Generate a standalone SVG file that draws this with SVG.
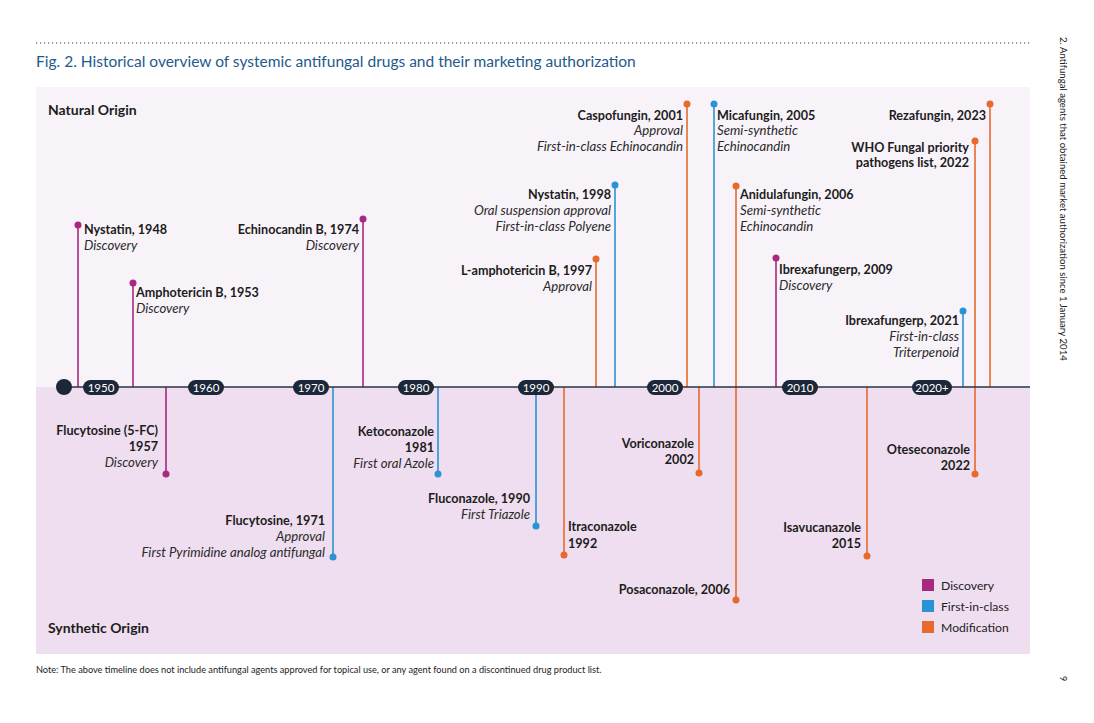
<svg xmlns="http://www.w3.org/2000/svg" width="1094" height="723" viewBox="0 0 1094 723">
<defs>
<style>
.t{font-family:Lato,"Noto Sans",sans-serif;fill:#1c1c1c}
.b{font-weight:bold;font-size:12.6px}
.i{font-style:italic;font-size:13.2px;fill:#2a2a2a}
.e{text-anchor:end}
.pill{fill:#1c2738}
.py{font-family:Lato,"Noto Sans",sans-serif;font-size:11.5px;fill:#ffffff;text-anchor:middle}
.d{stroke:#a8297d;fill:none;stroke-width:1.6}
.f{stroke:#2a93d4;fill:none;stroke-width:1.6}
.m{stroke:#e6692d;fill:none;stroke-width:1.6}
.dd{fill:#a8297d}
.fd{fill:#2a93d4}
.md{fill:#e6692d}
</style>
</defs>
<rect width="1094" height="723" fill="#ffffff"/>
<line x1="36" y1="43" x2="1030" y2="43" stroke="#333" stroke-width="1.2" stroke-dasharray="1.2 2.8"/>
<text x="36" y="67" font-family="Lato,'Noto Sans',sans-serif" font-size="15.5" fill="#1e5a8c">Fig. 2. Historical overview of systemic antifungal drugs and their marketing authorization</text>
<rect x="36" y="87" width="994" height="300" fill="#f8f3f9"/>
<rect x="36" y="387" width="994" height="267" fill="#efdeef"/>
<text class="t" x="48" y="115" font-size="14" font-weight="bold">Natural Origin</text>
<text class="t" x="48" y="633" font-size="14" font-weight="bold">Synthetic Origin</text>
<g id="connectors">
<line class="d" x1="78" y1="225" x2="78" y2="387"/>
<line class="d" x1="133" y1="283" x2="133" y2="387"/>
<line class="d" x1="363" y1="219" x2="363" y2="387"/>
<line class="m" x1="596" y1="259" x2="596" y2="387"/>
<line class="f" x1="615" y1="185" x2="615" y2="387"/>
<line class="m" x1="687" y1="104" x2="687" y2="387"/>
<line class="f" x1="714" y1="104" x2="714" y2="387"/>
<line class="m" x1="736" y1="186" x2="736" y2="600"/>
<line class="d" x1="776" y1="258" x2="776" y2="387"/>
<line class="f" x1="963" y1="311" x2="963" y2="387"/>
<line class="m" x1="975" y1="141" x2="975" y2="474"/>
<line class="m" x1="990" y1="104" x2="990" y2="387"/>
<line class="d" x1="166" y1="387" x2="166" y2="474"/>
<line class="f" x1="333" y1="387" x2="333" y2="557"/>
<line class="f" x1="438" y1="387" x2="438" y2="474"/>
<line class="f" x1="536" y1="387" x2="536" y2="526"/>
<line class="m" x1="564" y1="387" x2="564" y2="555"/>
<line class="m" x1="699" y1="387" x2="699" y2="473"/>
<line class="m" x1="867" y1="387" x2="867" y2="556"/>
</g>
<g id="axis">
<line x1="64" y1="387" x2="1030" y2="387" stroke="#2b3342" stroke-width="1.6"/>
<circle cx="64" cy="387" r="8" fill="#1c2738"/>
<rect class="pill" x="83" y="380" width="36" height="15" rx="7.5"/><text class="py" x="101" y="392">1950</text>
<rect class="pill" x="188" y="380" width="36" height="15" rx="7.5"/><text class="py" x="206" y="392">1960</text>
<rect class="pill" x="293" y="380" width="36" height="15" rx="7.5"/><text class="py" x="311" y="392">1970</text>
<rect class="pill" x="398" y="380" width="36" height="15" rx="7.5"/><text class="py" x="416" y="392">1980</text>
<rect class="pill" x="518" y="380" width="36" height="15" rx="7.5"/><text class="py" x="536" y="392">1990</text>
<rect class="pill" x="647" y="380" width="36" height="15" rx="7.5"/><text class="py" x="665" y="392">2000</text>
<rect class="pill" x="782" y="380" width="36" height="15" rx="7.5"/><text class="py" x="800" y="392">2010</text>
<rect class="pill" x="912" y="380" width="40" height="15" rx="7.5"/><text class="py" x="932" y="392">2020+</text>
</g>
<g id="nystatin-1948"><circle class="dd" cx="78" cy="225" r="3.5"/><text class="t b" x="84" y="234">Nystatin, 1948</text><text class="t i" x="84" y="250">Discovery</text></g>
<g id="amphotericin-1953"><circle class="dd" cx="133" cy="283" r="3.5"/><text class="t b" x="136" y="297">Amphotericin B, 1953</text><text class="t i" x="136" y="313">Discovery</text></g>
<g id="echinocandin-1974"><circle class="dd" cx="363" cy="219" r="3.5"/><text class="t b e" x="359" y="234">Echinocandin B, 1974</text><text class="t i e" x="359" y="250">Discovery</text></g>
<g id="lamphotericin-1997"><circle class="md" cx="596" cy="259" r="3.5"/><text class="t b e" x="592" y="275">L-amphotericin B, 1997</text><text class="t i e" x="592" y="291">Approval</text></g>
<g id="nystatin-1998"><circle class="fd" cx="615" cy="185" r="3.5"/><text class="t b e" x="611" y="199">Nystatin, 1998</text><text class="t i e" x="611" y="215">Oral suspension approval</text><text class="t i e" x="611" y="231">First-in-class Polyene</text></g>
<g id="caspofungin-2001"><circle class="md" cx="687" cy="104" r="3.5"/><text class="t b e" x="683" y="120">Caspofungin, 2001</text><text class="t i e" x="683" y="135">Approval</text><text class="t i e" x="683" y="151">First-in-class Echinocandin</text></g>
<g id="micafungin-2005"><circle class="fd" cx="714" cy="104" r="3.5"/><text class="t b" x="717" y="120">Micafungin, 2005</text><text class="t i" x="717" y="135">Semi-synthetic</text><text class="t i" x="717" y="151">Echinocandin</text></g>
<g id="anidulafungin-2006"><circle class="md" cx="736" cy="186" r="3.5"/><text class="t b" x="740" y="199">Anidulafungin, 2006</text><text class="t i" x="740" y="215">Semi-synthetic</text><text class="t i" x="740" y="231">Echinocandin</text></g>
<g id="ibrexafungerp-2009"><circle class="dd" cx="776" cy="258" r="3.5"/><text class="t b" x="779" y="274">Ibrexafungerp, 2009</text><text class="t i" x="779" y="290">Discovery</text></g>
<g id="ibrexafungerp-2021"><circle class="fd" cx="963" cy="311" r="3.5"/><text class="t b e" x="959" y="325">Ibrexafungerp, 2021</text><text class="t i e" x="959" y="341">First-in-class</text><text class="t i e" x="959" y="357">Triterpenoid</text></g>
<g id="who-2022"><circle class="md" cx="975" cy="141" r="3.5"/><text class="t b e" x="969" y="152">WHO Fungal priority</text><text class="t b e" x="969" y="167">pathogens list, 2022</text></g>
<g id="rezafungin-2023"><circle class="md" cx="990" cy="104" r="3.5"/><text class="t b e" x="986" y="120">Rezafungin, 2023</text></g>
<g id="flucytosine-1957"><circle class="dd" cx="166" cy="474" r="3.5"/><text class="t b e" x="158" y="435">Flucytosine (5-FC)</text><text class="t b e" x="158" y="451">1957</text><text class="t i e" x="158" y="467">Discovery</text></g>
<g id="flucytosine-1971"><circle class="fd" cx="333" cy="557" r="3.5"/><text class="t b e" x="325" y="525">Flucytosine, 1971</text><text class="t i e" x="325" y="541">Approval</text><text class="t i e" x="325" y="557">First Pyrimidine analog antifungal</text></g>
<g id="ketoconazole-1981"><circle class="fd" cx="438" cy="474" r="3.5"/><text class="t b e" x="434" y="436">Ketoconazole</text><text class="t b e" x="434" y="452">1981</text><text class="t i e" x="434" y="468">First oral Azole</text></g>
<g id="fluconazole-1990"><circle class="fd" cx="536" cy="526" r="3.5"/><text class="t b e" x="530" y="503">Fluconazole, 1990</text><text class="t i e" x="530" y="519">First Triazole</text></g>
<g id="itraconazole-1992"><circle class="md" cx="564" cy="555" r="3.5"/><text class="t b" x="568" y="531">Itraconazole</text><text class="t b" x="568" y="548">1992</text></g>
<g id="voriconazole-2002"><circle class="md" cx="699" cy="473" r="3.5"/><text class="t b e" x="694" y="448">Voriconazole</text><text class="t b e" x="694" y="464">2002</text></g>
<g id="posaconazole-2006"><circle class="md" cx="736" cy="600" r="3.5"/><text class="t b e" x="730" y="594">Posaconazole, 2006</text></g>
<g id="isavucanazole-2015"><circle class="md" cx="867" cy="556" r="3.5"/><text class="t b e" x="861" y="532">Isavucanazole</text><text class="t b e" x="861" y="548">2015</text></g>
<g id="oteseconazole-2022"><circle class="md" cx="975" cy="474" r="3.5"/><text class="t b e" x="970" y="454">Oteseconazole</text><text class="t b e" x="970" y="470">2022</text></g>
<g id="legend">
<rect x="922" y="579" width="12" height="12" fill="#a8297d"/><text class="t" x="941" y="590" font-size="12.2">Discovery</text>
<rect x="922" y="600" width="12" height="12" fill="#2a93d4"/><text class="t" x="941" y="611" font-size="12.2">First-in-class</text>
<rect x="922" y="621" width="12" height="12" fill="#e6692d"/><text class="t" x="941" y="632" font-size="12.2">Modification</text>
</g>
<text class="t" x="36" y="673" font-size="9.2">Note: The above timeline does not include antifungal agents approved for topical use, or any agent found on a discontinued drug product list.</text>
<text class="t" x="0" y="0" font-size="9.6" transform="translate(1060,37) rotate(90)">2. Antifungal agents that  obtained market authorization since 1 January 2014</text>
<text class="t" x="0" y="0" font-size="9" transform="translate(1060,676) rotate(90)">9</text>
</svg>
